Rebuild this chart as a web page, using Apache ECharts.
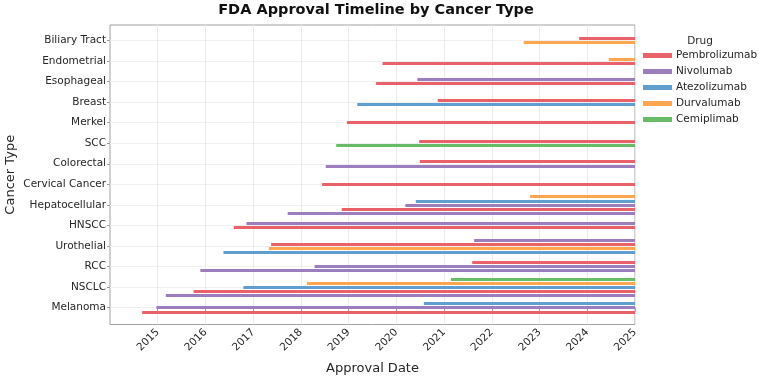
<!DOCTYPE html>
<html>
<head>
<meta charset="utf-8">
<script src="https://cdn.jsdelivr.net/npm/echarts@6/dist/echarts.min.js"></script>
<style>
    html, body { margin: 0; padding: 0; background: #fff; }
    #chart { width: 759px; height: 379px; }
</style>
</head>
<body>
<div id="chart"></div>
<script>
// y categories, bottom -> top
var cancerTypes = ['Melanoma', 'NSCLC', 'RCC', 'Urothelial', 'HNSCC', 'Hepatocellular',
    'Cervical Cancer', 'Colorectal', 'SCC', 'Merkel', 'Breast', 'Esophageal',
    'Endometrial', 'Biliary Tract'];
var drugs = ['Pembrolizumab', 'Nivolumab', 'Atezolizumab', 'Durvalumab', 'Cemiplimab'];
var drugColors = ['#e9626a', '#9c7dbd', '#5f9ecf', '#fea54f', '#69bc67'];

// one entry per approval
var approvalCancer = [
    'Melanoma', 'Melanoma', 'Melanoma',
    'NSCLC', 'NSCLC', 'NSCLC', 'NSCLC', 'NSCLC',
    'RCC', 'RCC', 'RCC',
    'Urothelial', 'Urothelial', 'Urothelial', 'Urothelial',
    'HNSCC', 'HNSCC',
    'Hepatocellular', 'Hepatocellular', 'Hepatocellular', 'Hepatocellular', 'Hepatocellular',
    'Cervical Cancer',
    'Colorectal', 'Colorectal',
    'SCC', 'SCC',
    'Merkel',
    'Breast', 'Breast',
    'Esophageal', 'Esophageal',
    'Endometrial', 'Endometrial',
    'Biliary Tract', 'Biliary Tract'
];
var approvalDrug = [
    'Pembrolizumab', 'Nivolumab', 'Atezolizumab',
    'Nivolumab', 'Pembrolizumab', 'Atezolizumab', 'Durvalumab', 'Cemiplimab',
    'Nivolumab', 'Nivolumab', 'Pembrolizumab',
    'Atezolizumab', 'Durvalumab', 'Pembrolizumab', 'Nivolumab',
    'Pembrolizumab', 'Nivolumab',
    'Nivolumab', 'Pembrolizumab', 'Nivolumab', 'Atezolizumab', 'Durvalumab',
    'Pembrolizumab',
    'Nivolumab', 'Pembrolizumab',
    'Cemiplimab', 'Pembrolizumab',
    'Pembrolizumab',
    'Atezolizumab', 'Pembrolizumab',
    'Pembrolizumab', 'Nivolumab',
    'Pembrolizumab', 'Durvalumab',
    'Durvalumab', 'Pembrolizumab'
];
var approvalDate = [
    '2014-09-04', '2014-12-22', '2020-07-30',
    '2015-03-04', '2015-10-02', '2016-10-18', '2018-02-16', '2021-02-22',
    '2015-11-23', '2018-04-16', '2021-08-04',
    '2016-05-18', '2017-05-01', '2017-05-18', '2021-08-19',
    '2016-08-05', '2016-11-10',
    '2017-09-22', '2018-11-09', '2020-03-10', '2020-05-29', '2022-10-21',
    '2018-06-12',
    '2018-07-10', '2020-06-29',
    '2018-09-28', '2020-06-24',
    '2018-12-19',
    '2019-03-08', '2020-11-13',
    '2019-07-30', '2020-06-10',
    '2019-09-17', '2024-06-14',
    '2022-09-02', '2023-10-31'
];
var yearTicks = [2015, 2016, 2017, 2018, 2019, 2020, 2021, 2022, 2023, 2024, 2025];
var timelineEnd = 2025;

var FONT = 'DejaVu Sans';

function toYear(s) {
    var p = s.split('-');
    var y = +p[0];
    var start = Date.UTC(y, 0, 1), next = Date.UTC(y + 1, 0, 1);
    return y + (Date.UTC(y, +p[1] - 1, +p[2]) - start) / (next - start);
}

// dodge approvals inside each cancer row, earliest at the bottom
var rowY = [];
cancerTypes.forEach(function (c, ci) {
    var idx = [];
    approvalCancer.forEach(function (a, i) { if (a === c) idx.push(i); });
    idx.sort(function (a, b) { return toYear(approvalDate[a]) - toYear(approvalDate[b]); });
    idx.forEach(function (i, r) { rowY[i] = ci + (r - (idx.length - 1) / 2) * 0.2; });
});

var series = drugs.map(function (drug, d) {
    var segs = [];
    approvalDrug.forEach(function (a, i) {
        if (a !== drug) return;
        segs.push({ coords: [[toYear(approvalDate[i]), rowY[i]], [timelineEnd, rowY[i]]] });
    });
    return {
        name: drug,
        type: 'lines',
        coordinateSystem: 'cartesian2d',
        color: drugColors[d],
        lineStyle: { color: drugColors[d], width: 3, opacity: 1, cap: 'butt' },
        data: segs
    };
});

var catTicks = cancerTypes.map(function (c, i) { return i; });

var chart = echarts.init(document.getElementById('chart'));
chart.setOption({
    animation: false,
    textStyle: { fontFamily: FONT },
    title: [{
        text: 'FDA Approval Timeline by Cancer Type',
        left: 376, top: 2.5, padding: 0, textAlign: 'center',
        textStyle: { fontFamily: FONT, fontSize: 14.5, fontWeight: 'bold', color: '#111' }
    }, {
        text: 'Drug',
        left: 700, top: 35.5, padding: 0, textAlign: 'center',
        textStyle: { fontFamily: FONT, fontSize: 10.5, fontWeight: 'normal', color: '#262626' }
    }],
    legend: {
        orient: 'vertical',
        left: 643, top: 49.5,
        padding: 0,
        itemWidth: 27, itemHeight: 3, itemGap: 4,
        icon: 'rect',
        textStyle: { fontFamily: FONT, fontSize: 10.5, lineHeight: 12, color: '#262626' },
        data: drugs.map(function (d, i) { return { name: d, itemStyle: { color: drugColors[i] } }; })
    },
    grid: {
        left: 110, right: 124, top: 25, bottom: 54.5,
        outerBoundsMode: 'none',
        show: true, borderColor: '#a0a0a0', borderWidth: 1
    },
    xAxis: {
        type: 'value', min: 2014, max: 2025, interval: 1,
        name: 'Approval Date', nameLocation: 'middle', nameGap: 38,
        nameMoveOverlap: false,
        nameTextStyle: { fontFamily: FONT, fontSize: 13, color: '#262626' },
        axisLine: { show: false },
        axisTick: { length: 4, lineStyle: { color: '#a0a0a0' }, customValues: yearTicks },
        axisLabel: {
            rotate: 45, fontSize: 10.5, color: '#262626', margin: 6,
            customValues: yearTicks,
            formatter: function (v) { return String(v); }
        },
        splitLine: { lineStyle: { color: '#ebebeb' } }
    },
    yAxis: {
        type: 'value', min: -0.82, max: 13.75,
        name: 'Cancer Type', nameLocation: 'middle', nameGap: 93,
        nameMoveOverlap: false,
        nameTextStyle: { fontFamily: FONT, fontSize: 13, color: '#262626' },
        axisLine: { show: false },
        axisTick: { show: true, length: 3, lineStyle: { color: '#a0a0a0' }, customValues: catTicks },
        axisLabel: {
            fontSize: 10.5, color: '#262626', margin: 4,
            customValues: catTicks,
            formatter: function (v) { return cancerTypes[Math.round(v)]; }
        },
        splitLine: { lineStyle: { color: '#f0f0f0' } }
    },
    series: series
});
</script>
</body>
</html>
